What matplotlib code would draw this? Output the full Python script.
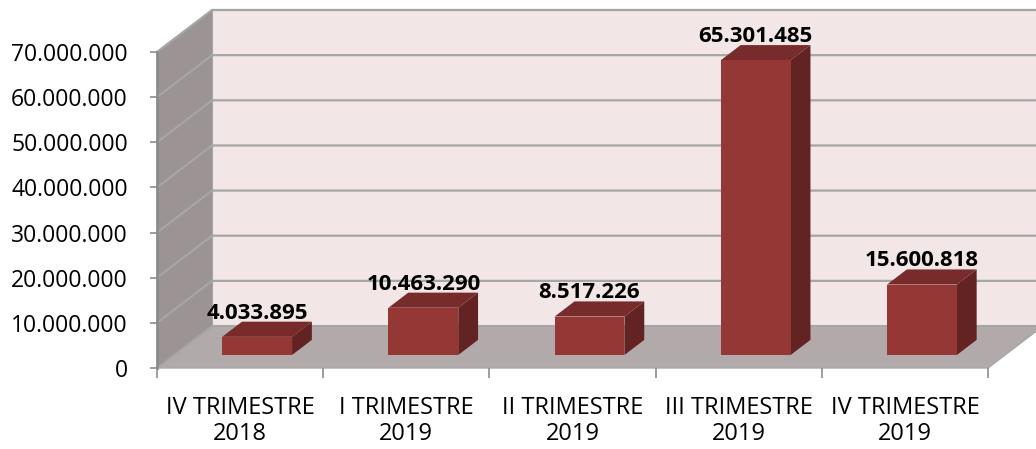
import matplotlib.pyplot as plt
import numpy as np
from matplotlib.patches import Polygon
from matplotlib.ticker import FuncFormatter

plt.rcParams['font.family'] = ['Open Sans', 'DejaVu Sans']

categories = ["IV TRIMESTRE\n2018", "I TRIMESTRE\n2019", "II TRIMESTRE\n2019",
              "III TRIMESTRE\n2019", "IV TRIMESTRE\n2019"]
values = [4033895, 10463290, 8517226, 65301485, 15600818]
yticks = [0, 10000000, 20000000, 30000000, 40000000, 50000000, 60000000, 70000000]

def dots(v, pos=None):
    return f"{int(v):,}".replace(",", ".")

# depth of the fake 3d box, in data units
depth_x = 0.331
depth_y = 9.3e6
def off(d):
    return d * depth_x, d * depth_y

fig = plt.figure(figsize=(10.36, 4.49), dpi=100)
ax = fig.add_axes([157/1036, 81/449, 831/1036, 316/449])
n = len(categories)
ax.set_xlim(0, n)
ax.set_ylim(0, 70e6)
ax.set_facecolor('none')

wall = '#f2e6e6'
side = '#9c9494'
floor = '#b2aaaa'
grid = '#a6a6a6'
dx, dy = off(1)
top = yticks[-1]

# back wall, left wall, floor
ax.add_patch(Polygon([(dx, dy), (n + dx, dy), (n + dx, top + dy), (dx, top + dy)],
                     closed=True, fc=wall, ec=grid, lw=1.5, clip_on=False, zorder=0))
ax.add_patch(Polygon([(0, 0), (dx, dy), (dx, top + dy), (0, top)],
                     closed=True, fc=side, ec='none', clip_on=False, zorder=0))
ax.add_patch(Polygon([(0, 0), (n, 0), (n + dx, dy), (dx, dy)],
                     closed=True, fc=floor, ec=grid, lw=1, clip_on=False, zorder=0))

for t in yticks[1:]:
    ax.plot([0, dx, n + dx], [t, t + dy, t + dy], color=grid, lw=1.6,
            clip_on=False, zorder=1)
ax.plot([0, dx], [0, dy], color=grid, lw=1.2, clip_on=False, zorder=1)

# bars
w = 0.42
d0, d1 = 0.31, 0.67
fx, fy = off(d0)
bx, by = off(d1)
front_c = '#953735'
top_c = '#772b2a'
side_c = '#622322'
for i, v in enumerate(values):
    x0 = i + 0.5 - w / 2 + fx
    x1 = x0 + w
    y0 = fy
    y1 = v + fy
    ax.add_patch(Polygon([(x1, y0), (x1 + bx - fx, y0 + by - fy), (x1 + bx - fx, y1 + by - fy), (x1, y1)],
                         closed=True, fc=side_c, ec='none', clip_on=False, zorder=3))
    ax.add_patch(Polygon([(x0, y1), (x1, y1), (x1 + bx - fx, y1 + by - fy), (x0 + bx - fx, y1 + by - fy)],
                         closed=True, fc=top_c, ec='none', clip_on=False, zorder=3))
    ax.add_patch(Polygon([(x0, y0), (x1, y0), (x1, y1), (x0, y1)],
                         closed=True, fc=front_c, ec='none', clip_on=False, zorder=3))
    ax.annotate(dots(v), (i + 0.5 + fx, v + by), xytext=(0, 3), textcoords='offset pixels',
                ha='center', va='baseline', fontsize=16, fontweight='bold', zorder=5,
                annotation_clip=False)

# axes
for s in ['top', 'right', 'bottom']:
    ax.spines[s].set_visible(False)
ax.spines['left'].set_color('#8c8c8c')
ax.spines['left'].set_linewidth(2)
ax.set_yticks(yticks)
ax.yaxis.set_major_formatter(FuncFormatter(dots))
ax.tick_params(axis='y', length=5, width=1.2, color='#8c8c8c', pad=16, labelsize=16.5)
ax.set_xticks(np.arange(n + 1))
ax.set_xticklabels([])
ax.set_xticks(np.arange(n) + 0.5, minor=True)
ax.set_xticklabels(categories, minor=True, fontsize=17, linespacing=1.15)
ax.tick_params(axis='x', which='major', length=7, width=1.2, color='#8c8c8c')
ax.tick_params(axis='x', which='minor', length=0, pad=20)

fig.savefig('out.png', dpi=100)
